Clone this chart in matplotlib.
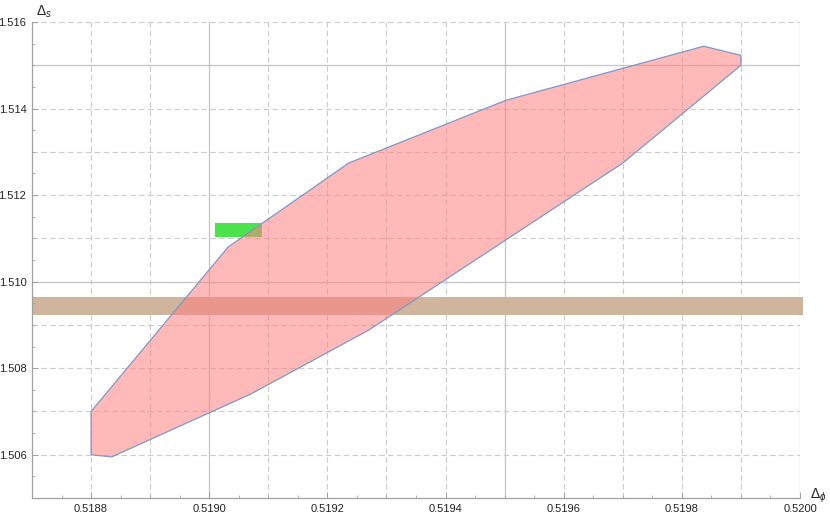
import numpy as np
import matplotlib
matplotlib.use("Agg")
import matplotlib.pyplot as plt
from matplotlib.patches import Polygon, Rectangle

plt.rcParams.update({
    "font.family": ["Liberation Sans", "DejaVu Sans"],
    "mathtext.fontset": "custom",
    "mathtext.rm": "Liberation Sans",
    "mathtext.it": "Liberation Sans:italic",
    "font.size": 8,
})

# -----------------------------
# Data
# -----------------------------
# allowed region boundary (Delta_phi, Delta_s), counter-clockwise
region_phi = [0.51880, 0.518835, 0.51907, 0.51927, 0.51970, 0.51990,
              0.51990, 0.519837, 0.519502, 0.519236, 0.519032, 0.51880]
region_s = [1.50600, 1.50595, 1.50740, 1.50888, 1.51274, 1.51500,
            1.51523, 1.51544, 1.51419, 1.51274, 1.51080, 1.50700]

# small green box
green_phi = [0.51901, 0.51909]
green_s = [1.51103, 1.51135]

# horizontal brown band
band_phi = [0.51870, 0.520005]
band_s = [1.50923, 1.50964]

x_ticks = [0.5188, 0.5190, 0.5192, 0.5194, 0.5196, 0.5198, 0.5200]
y_ticks = [1.506, 1.508, 1.510, 1.512, 1.514, 1.516]
x_solid = [0.5190, 0.5195, 0.5200]
y_solid = [1.510, 1.515]

XMIN, XMAX = 0.5187, 0.5200
YMIN, YMAX = 1.505, 1.516

# -----------------------------
# Figure
# -----------------------------
W, H = 830, 518
fig = plt.figure(figsize=(W / 100, H / 100), dpi=100, facecolor="white")
ax = fig.add_axes([32 / W, 20 / H, 768 / W, 476 / H])
ax.set_xlim(XMIN, XMAX)
ax.set_ylim(YMIN, YMAX)

GRID_C = "#cbcbcb"
SOLID_C = "#c4c4c4"
dash = (0, (5, 3))

# grid lines
for xv in np.round(np.arange(0.5188, 0.52001, 0.0001), 4):
    if any(abs(xv - s) < 1e-9 for s in x_solid):
        ax.axvline(xv, color=SOLID_C, lw=0.9, zorder=0)
    else:
        ax.axvline(xv, color=GRID_C, lw=0.8, ls=dash, zorder=0)
for yv in np.round(np.arange(1.506, 1.51601, 0.001), 3):
    if any(abs(yv - s) < 1e-9 for s in y_solid):
        ax.axhline(yv, color=SOLID_C, lw=0.9, zorder=0)
    else:
        ax.axhline(yv, color=GRID_C, lw=0.8, ls=dash, zorder=0)

# brown band
ax.add_patch(Rectangle((band_phi[0], band_s[0]), band_phi[1] - band_phi[0],
                       band_s[1] - band_s[0], facecolor="#cfb59c",
                       edgecolor="none", zorder=1, clip_on=False))

# green box
ax.add_patch(Rectangle((green_phi[0], green_s[0]), green_phi[1] - green_phi[0],
                       green_s[1] - green_s[0], facecolor="#4ce24c",
                       edgecolor="none", zorder=2))

# allowed region
pts = np.column_stack([region_phi, region_s])
ax.add_patch(Polygon(pts, closed=True, facecolor=(1.0, 0.5, 0.5, 0.55),
                     edgecolor="#7f97c8", lw=0.9, zorder=3))

# axes styling
for side in ("top", "right"):
    ax.spines[side].set_visible(False)
for side in ("left", "bottom"):
    ax.spines[side].set_color("#a0a0a0")
    ax.spines[side].set_linewidth(0.9)

ax.set_xticks(x_ticks)
ax.set_xticklabels([f"{v:.4f}" for v in x_ticks])
ax.set_yticks(y_ticks)
ax.set_yticklabels([f"{v:.3f}" for v in y_ticks])
ax.set_xticks(np.arange(0.51875, 0.52001, 0.00005), minor=True)
ax.set_yticks(np.arange(1.5055, 1.51601, 0.0005), minor=True)
ax.tick_params(which="major", direction="in", length=4, width=0.7,
               color="#a0a0a0", labelcolor="#222222", labelsize=8, pad=4)
ax.tick_params(which="minor", direction="in", length=2.2, width=0.6,
               color="#a0a0a0")

# axis labels (Mathematica style, at axis ends)
fig.text(44 / W, 1 - 12 / H, r"$\Delta_s$", fontsize=10, color="#222222",
         ha="center", va="center")
fig.text(818 / W, 1 - 496 / H, r"$\Delta_\phi$", fontsize=10, color="#222222",
         ha="center", va="center")

fig.savefig("out.png", dpi=100, facecolor="white")
plt.close(fig)
